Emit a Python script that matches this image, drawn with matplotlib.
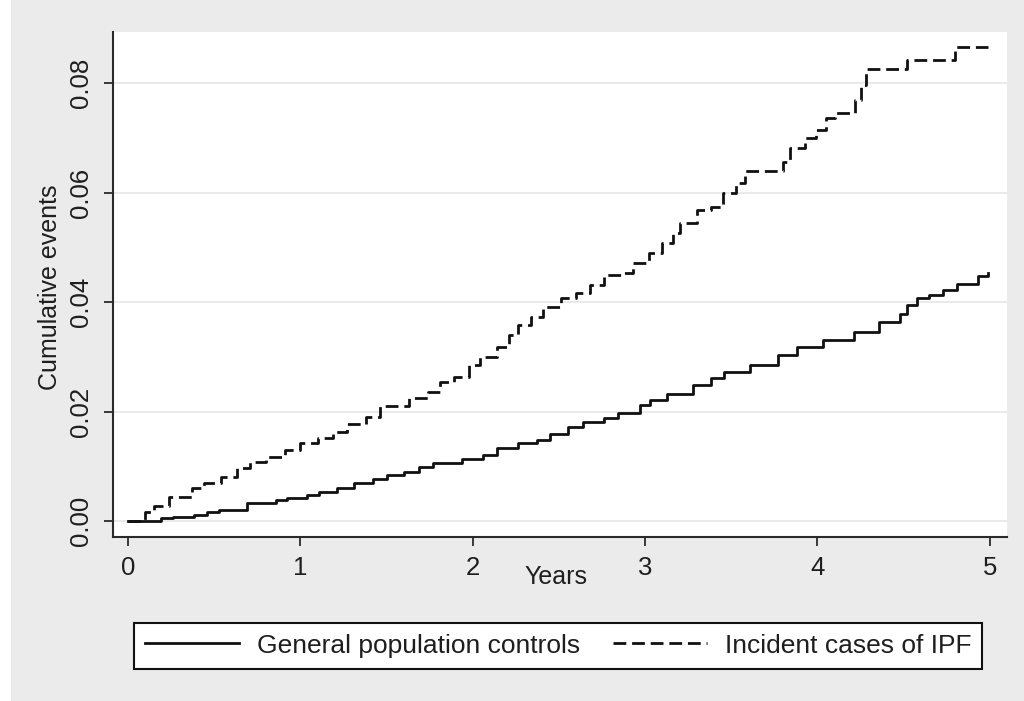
import matplotlib
matplotlib.use("Agg")
import matplotlib.pyplot as plt
from matplotlib.patches import Rectangle
from matplotlib.ticker import FormatStrFormatter

plt.rcParams["font.family"] = ["Liberation Sans", "DejaVu Sans"]

# cumulative events, general population controls (years, proportion)
ctrl_t = [0.00, 0.19, 0.26, 0.38, 0.46, 0.53, 0.69, 0.86, 0.92, 1.04, 1.11, 1.21,
          1.31, 1.42, 1.50, 1.60, 1.69, 1.77, 1.94, 2.06, 2.14, 2.26, 2.37, 2.45,
          2.55, 2.64, 2.76, 2.84, 2.97, 3.03, 3.13, 3.28, 3.38, 3.46, 3.61, 3.77,
          3.88, 4.03, 4.21, 4.36, 4.48, 4.52, 4.58, 4.65, 4.73, 4.81, 4.93, 4.99]
ctrl_v = [0.0000, 0.0005, 0.0008, 0.0011, 0.0017, 0.0021, 0.0033, 0.0038, 0.0043,
          0.0047, 0.0054, 0.0060, 0.0069, 0.0076, 0.0084, 0.0090, 0.0099, 0.0107,
          0.0113, 0.0120, 0.0133, 0.0142, 0.0149, 0.0160, 0.0171, 0.0181, 0.0189,
          0.0198, 0.0212, 0.0221, 0.0232, 0.0248, 0.0261, 0.0273, 0.0285, 0.0303,
          0.0318, 0.0331, 0.0346, 0.0364, 0.0379, 0.0394, 0.0407, 0.0413, 0.0422,
          0.0434, 0.0448, 0.0453]

# cumulative events, incident cases of IPF
ipf_t = [0.00, 0.10, 0.15, 0.24, 0.37, 0.44, 0.54, 0.63, 0.71, 0.80, 0.91, 1.00,
         1.10, 1.19, 1.27, 1.38, 1.46, 1.63, 1.74, 1.81, 1.89, 1.98, 2.04, 2.14,
         2.21, 2.26, 2.34, 2.41, 2.51, 2.60, 2.68, 2.76, 2.86, 2.93, 3.02, 3.10,
         3.16, 3.20, 3.30, 3.38, 3.45, 3.53, 3.58, 3.80, 3.84, 3.93, 3.99, 4.05,
         4.10, 4.22, 4.25, 4.28, 4.52, 4.80, 4.99]
ipf_v = [0.0000, 0.0017, 0.0027, 0.0044, 0.0060, 0.0069, 0.0080, 0.0097, 0.0108,
         0.0117, 0.0130, 0.0142, 0.0152, 0.0163, 0.0177, 0.0190, 0.0210, 0.0225,
         0.0236, 0.0254, 0.0263, 0.0285, 0.0300, 0.0318, 0.0340, 0.0358, 0.0373,
         0.0391, 0.0407, 0.0416, 0.0431, 0.0449, 0.0453, 0.0471, 0.0489, 0.0508,
         0.0526, 0.0544, 0.0568, 0.0573, 0.0599, 0.0617, 0.0639, 0.0656, 0.0681,
         0.0699, 0.0714, 0.0736, 0.0745, 0.0769, 0.0796, 0.0825, 0.0842, 0.0866,
         0.0866]

x_ticks = [0, 1, 2, 3, 4, 5]
y_ticks = [0.00, 0.02, 0.04, 0.06, 0.08]
labels = ["General population controls", "Incident cases of IPF"]

# gray page with a thin white strip on the left
fig = plt.figure(figsize=(10.24, 7.01), dpi=100, facecolor="#ebebeb")
fig.patches.append(Rectangle((0, 0), 11 / 1024, 1, transform=fig.transFigure,
                             facecolor="white", edgecolor="none", zorder=-10))

ax = fig.add_axes([0.1104, 0.234, 0.873, 0.72])
ax.set_facecolor("white")

for y in y_ticks:
    ax.axhline(y, color="#e6e6e6", lw=1.2, zorder=1)

ax.plot(ctrl_t, ctrl_v, drawstyle="steps-post", color="#111111", lw=2.0,
        label=labels[0], zorder=3)
ax.plot(ipf_t, ipf_v, drawstyle="steps-post", color="#111111", lw=2.0,
        dashes=(4.6, 2.1), label=labels[1], zorder=3)

ax.set_xlim(-0.087, 5.10)
ax.set_ylim(-0.0029, 0.0893)
ax.set_xticks(x_ticks)
ax.set_yticks(y_ticks)
ax.yaxis.set_major_formatter(FormatStrFormatter("%.2f"))

for s in ["top", "right"]:
    ax.spines[s].set_visible(False)
for s in ["left", "bottom"]:
    ax.spines[s].set_color("#2a2a2a")
    ax.spines[s].set_linewidth(1.5)

ax.tick_params(axis="both", direction="out", length=6.5, width=1.3,
               color="#2a2a2a", labelsize=18.5, labelcolor="#1e1e1e")
ax.tick_params(axis="x", pad=7)
ax.tick_params(axis="y", pad=8)
for lab in ax.get_yticklabels():
    lab.set_rotation(90)
    lab.set_va("center")

ax.set_xlabel("Years", fontsize=18, color="#1e1e1e", va="center")
ax.xaxis.set_label_coords(0.495, -0.079)
ax.set_ylabel("Cumulative events", fontsize=18, color="#1e1e1e", va="center")
ax.yaxis.set_label_coords(-0.0705, 0.495)

leg = fig.legend(loc="center", bbox_to_anchor=(0.545, 0.079), ncol=2,
                 fontsize=19, frameon=True, fancybox=False, framealpha=1,
                 handlelength=3.55, handletextpad=0.68, columnspacing=1.25,
                 borderpad=0.42, borderaxespad=0)
leg.get_frame().set_edgecolor("#111111")
leg.get_frame().set_linewidth(1.5)
for t in leg.get_texts():
    t.set_color("#1e1e1e")

fig.savefig("out.png", dpi=100, facecolor=fig.get_facecolor())
